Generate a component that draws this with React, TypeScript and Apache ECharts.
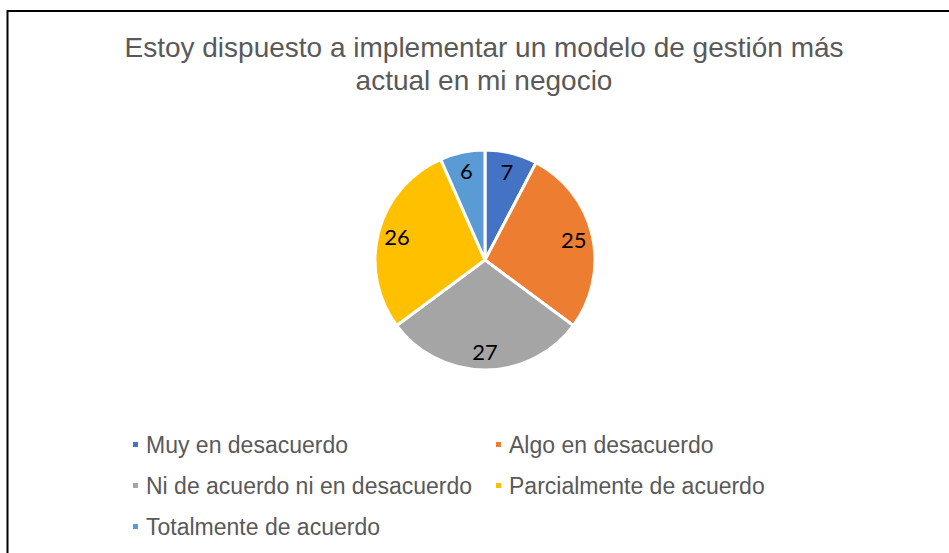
import React, { useEffect, useRef } from "react";
import * as echarts from "echarts";

const titleText = "Estoy dispuesto a implementar un modelo de gestión más\nactual en mi negocio";
const categories = [
  "Muy en desacuerdo",
  "Algo en desacuerdo",
  "Ni de acuerdo ni en desacuerdo",
  "Parcialmente de acuerdo",
  "Totalmente de acuerdo",
];
const values = [7, 25, 27, 26, 6];
const colors = ["#4472C4", "#ED7D31", "#A5A5A5", "#FFC000", "#5B9BD5"];
const legendCol1 = [0, 2, 4];
const legendCol2 = [1, 3];

const SANS = "'Liberation Sans', Arial, sans-serif";

export default function App() {
  const ref = useRef<HTMLDivElement>(null);
  useEffect(() => {
    if (!ref.current) return;
    const chart = echarts.init(ref.current, null, { renderer: "svg" });
    const pieData = categories.map((name, i) => ({
      name,
      value: values[i],
      itemStyle: { color: colors[i] },
    }));
    const legendItem = (i: number) => ({
      name: categories[i],
      itemStyle: { color: colors[i] },
    });
    const legendBase = {
      orient: "vertical" as const,
      icon: "rect",
      itemWidth: 7,
      itemHeight: 7,
      itemGap: 18,
      padding: 0,
      selectedMode: false,
      textStyle: {
        fontFamily: SANS,
        fontSize: 23,
        lineHeight: 22,
        color: "#595959",
        padding: [0, 0, 0, 2],
      },
    };
    chart.setOption({
      animation: false,
      backgroundColor: "#ffffff",
      title: {
        text: titleText,
        left: 484,
        textAlign: "center",
        top: 31,
        padding: 0,
        textStyle: {
          fontFamily: SANS,
          fontSize: 28,
          lineHeight: 33,
          fontWeight: "normal",
          color: "#595959",
        },
      },
      legend: [
        { ...legendBase, left: 131, top: 433, data: legendCol1.map(legendItem) },
        { ...legendBase, left: 494, top: 433, data: legendCol2.map(legendItem) },
      ],
      graphic: [
        {
          type: "rect",
          shape: { x: 7.5, y: 11, width: 1000, height: 1000 },
          style: { fill: "none", stroke: "#000000", lineWidth: 2 },
          silent: true,
        },
      ],
      series: [
        {
          type: "pie",
          center: [485, 260],
          radius: [0, 110],
          startAngle: 90,
          clockwise: true,
          data: pieData,
          label: { show: false },
          labelLine: { show: false },
          itemStyle: { borderColor: "#ffffff", borderWidth: 3 },
          emphasis: { disabled: true },
          silent: true,
        },
        {
          type: "pie",
          center: [485, 260],
          radius: [66, 110],
          startAngle: 90,
          clockwise: true,
          data: pieData.map((d) => ({ ...d, itemStyle: { color: "rgba(0,0,0,0)" } })),
          label: {
            show: true,
            position: "inside",
            formatter: "{c}",
            fontFamily: "Lato, sans-serif",
            fontSize: 22,
            color: "#000000",
          },
          labelLine: { show: false },
          emphasis: { disabled: true },
          silent: true,
        },
      ],
    });
    return () => chart.dispose();
  }, []);
  return (
    <div
      ref={ref}
      style={{ position: "absolute", left: 0, top: 0, width: 949, height: 553 }}
    />
  );
}
